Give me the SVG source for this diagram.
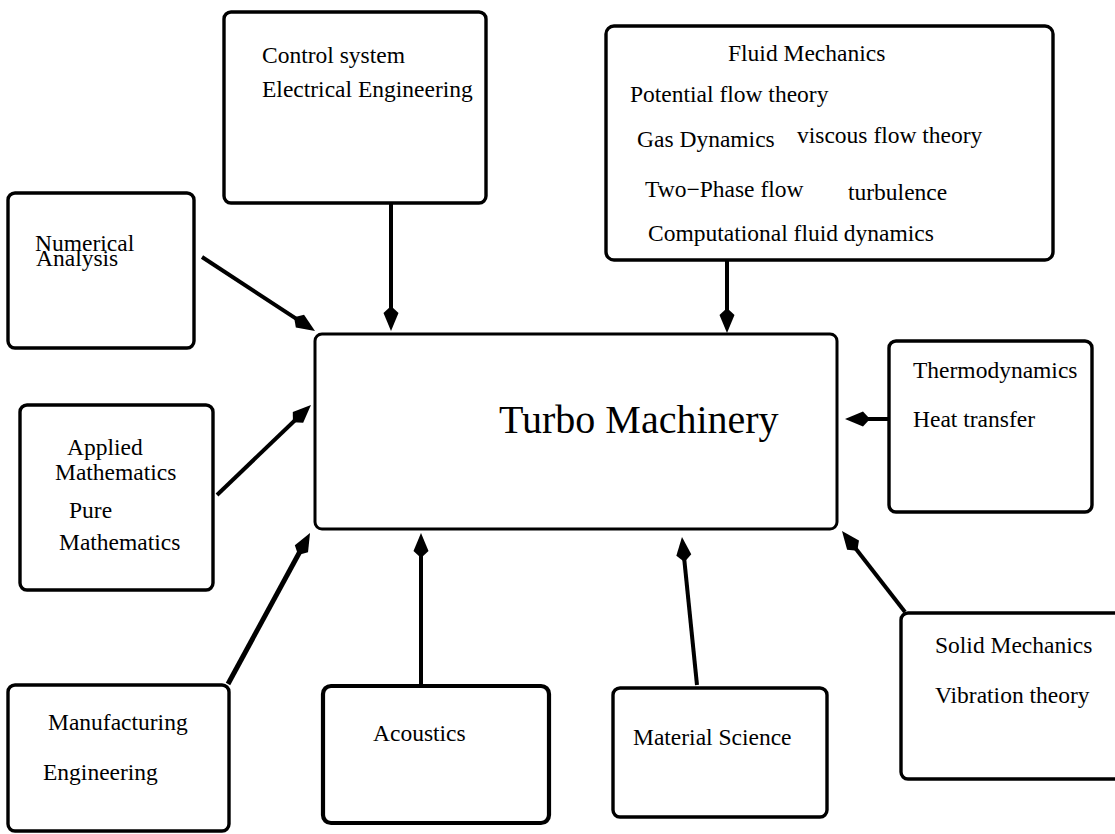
<svg xmlns="http://www.w3.org/2000/svg" width="1115" height="834" viewBox="0 0 1115 834">
<style>
.box{fill:none;stroke:#000;stroke-width:3.4}
.thick{stroke-width:4.2}
.main{fill:none;stroke:#000;stroke-width:3}
.t{font-family:"Liberation Serif","Times New Roman",serif;font-size:23.5px;fill:#000}
.big{font-family:"Liberation Serif","Times New Roman",serif;font-size:40px;fill:#000}
.c{fill:none;stroke:#000;stroke-width:4;marker-end:url(#ah)}
.w{stroke-width:5}
</style>
<defs>
<marker id="ah" markerUnits="userSpaceOnUse" markerWidth="40" markerHeight="40" viewBox="-25 -20 40 40" refX="0" refY="0" orient="auto" overflow="visible">
<path d="M8,0 L-10,-7.5 L-17,0 L-10,7.5 Z" fill="#000"/>
</marker>
</defs>
<rect width="1115" height="834" fill="#fff"/>
<g id="connectors">
<path class="c" d="M202,257 L308.3,326.6"/>
<path class="c" d="M391,203 L391,323"/>
<path class="c" d="M727,260 L727,325"/>
<path class="c" d="M217,495 L305.2,410.5"/>
<path class="c w" d="M228,684 L306.2,540"/>
<path class="c" d="M421,686 L421,541"/>
<path class="c" d="M697,685 L682.8,545"/>
<path class="c" d="M905,612 L846.9,537.3"/>
<path class="c" d="M889,419 L853,419"/>
</g>
<g id="turbo">
<rect class="main" x="315" y="334" width="522" height="195" rx="7"/>
<text class="big" x="499" y="433">Turbo Machinery</text>
</g>
<g id="control">
<rect class="box" x="224" y="12" width="262" height="191" rx="7"/>
<text class="t" x="262" y="63">Control system</text>
<text class="t" x="262" y="97">Electrical Engineering</text>
</g>
<g id="fluid">
<rect class="box" x="606" y="26" width="447" height="234" rx="8"/>
<text class="t" x="728" y="61">Fluid Mechanics</text>
<text class="t" x="630" y="102">Potential flow theory</text>
<text class="t" x="637" y="147">Gas Dynamics</text>
<text class="t" x="797" y="143">viscous flow theory</text>
<text class="t" x="645" y="197">Two−Phase flow</text>
<text class="t" x="848" y="200">turbulence</text>
<text class="t" x="648" y="241">Computational fluid dynamics</text>
</g>
<g id="numerical">
<rect class="box" x="8" y="193" width="186" height="155" rx="7"/>
<text class="t" x="35" y="251">Numerical</text>
<text class="t" x="36" y="266">Analysis</text>
</g>
<g id="applied">
<rect class="box" x="20" y="405" width="193" height="185" rx="7"/>
<text class="t" x="67" y="455">Applied</text>
<text class="t" x="55" y="480">Mathematics</text>
<text class="t" x="69" y="518">Pure</text>
<text class="t" x="59" y="550">Mathematics</text>
</g>
<g id="thermo">
<rect class="box" x="889" y="341" width="203" height="171" rx="7"/>
<text class="t" x="913" y="378">Thermodynamics</text>
<text class="t" x="913" y="427">Heat transfer</text>
</g>
<g id="manufacturing">
<rect class="box" x="8" y="685" width="221" height="146" rx="7"/>
<text class="t" x="48" y="730">Manufacturing</text>
<text class="t" x="43" y="780">Engineering</text>
</g>
<g id="acoustics">
<rect class="box thick" x="323" y="686" width="226" height="137" rx="8"/>
<text class="t" x="373" y="741">Acoustics</text>
</g>
<g id="material">
<rect class="box" x="613" y="688" width="214" height="129" rx="7"/>
<text class="t" x="633" y="745">Material Science</text>
</g>
<g id="solid">
<rect class="box" x="901" y="613" width="230" height="166" rx="7"/>
<text class="t" x="935" y="653">Solid Mechanics</text>
<text class="t" x="935" y="703">Vibration theory</text>
</g>
</svg>
